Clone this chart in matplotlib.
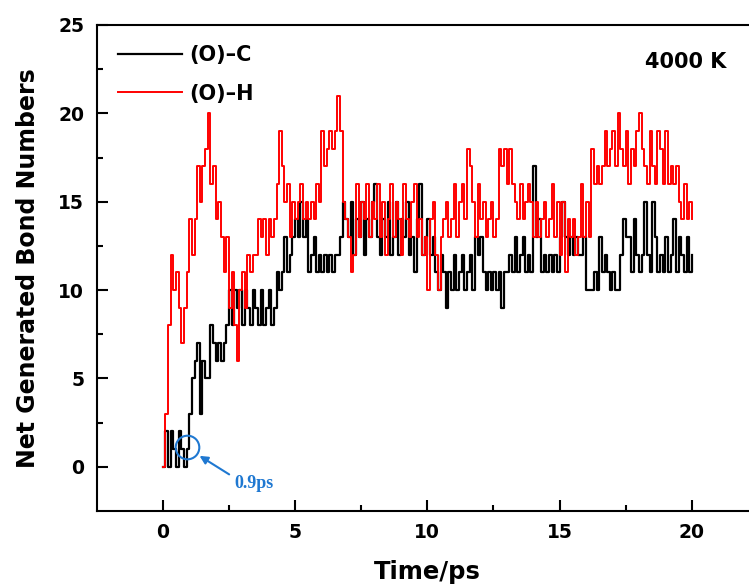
import numpy as np
import matplotlib
matplotlib.use('Agg')
import matplotlib.pyplot as plt
from matplotlib.lines import Line2D

TIME_STEP = 0.1

oc_bonds = [
    0, 2, 0, 2, 1, 0, 2, 1, 0, 1,
    3, 5, 6, 7, 3, 6, 5, 5, 8, 7,
    6, 7, 6, 7, 8, 10, 8, 10, 9, 10,
    8, 10, 9, 8, 10, 9, 8, 10, 8, 9,
    10, 8, 9, 11, 10, 11, 13, 11, 12, 13,
    14, 13, 15, 13, 14, 11, 12, 13, 11, 12,
    11, 12, 11, 12, 11, 12, 12, 13, 15, 14,
    13, 15, 12, 14, 13, 15, 12, 14, 13, 15,
    16, 13, 12, 14, 13, 15, 12, 13, 15, 12,
    14, 13, 15, 12, 13, 11, 14, 16, 12, 13,
    14, 12, 13, 11, 10, 12, 11, 9, 11, 10,
    12, 10, 11, 12, 10, 11, 12, 10, 13, 12,
    13, 11, 10, 11, 10, 11, 10, 11, 9, 11,
    11, 12, 11, 13, 11, 12, 13, 11, 12, 11,
    17, 13, 14, 11, 12, 11, 12, 11, 12, 11,
    13, 15, 13, 12, 13, 12, 13, 12, 12, 13,
    10, 10, 10, 11, 10, 13, 11, 12, 11, 10,
    11, 10, 10, 12, 14, 13, 13, 11, 14, 12,
    11, 12, 15, 12, 11, 15, 13, 11, 12, 11,
    13, 11, 12, 14, 11, 13, 12, 11, 13, 11,
    12,
]

oh_bonds = [
    0, 3, 8, 12, 10, 11, 9, 7, 9, 11,
    14, 12, 14, 17, 15, 17, 18, 20, 16, 17,
    14, 15, 13, 11, 13, 9, 11, 8, 6, 10,
    11, 9, 12, 11, 12, 12, 14, 13, 14, 12,
    14, 13, 14, 16, 19, 17, 15, 16, 13, 15,
    14, 15, 16, 14, 15, 14, 15, 14, 16, 15,
    19, 17, 18, 19, 18, 19, 21, 19, 15, 14,
    13, 11, 12, 16, 13, 15, 14, 16, 13, 15,
    14, 16, 13, 15, 12, 14, 16, 13, 15, 14,
    12, 16, 14, 13, 15, 16, 13, 14, 12, 13,
    10, 14, 15, 12, 10, 13, 14, 15, 13, 14,
    16, 13, 15, 16, 14, 18, 17, 15, 13, 16,
    14, 15, 13, 14, 15, 13, 14, 18, 17, 18,
    16, 18, 16, 15, 14, 16, 14, 15, 16, 15,
    13, 15, 13, 14, 15, 13, 14, 16, 13, 15,
    12, 15, 11, 14, 13, 14, 12, 13, 16, 13,
    15, 13, 18, 16, 17, 16, 17, 19, 17, 18,
    19, 17, 20, 18, 17, 19, 16, 18, 17, 19,
    20, 18, 17, 16, 19, 17, 16, 19, 18, 16,
    19, 16, 17, 16, 17, 15, 14, 16, 14, 15,
    14,
]

x_ticks = [0, 5, 10, 15, 20]
y_ticks = [0, 5, 10, 15, 20, 25]

# onset marker
onset_t, onset_n = 0.9, 1.1
BLUE = '#1f78d1'

time_ps = np.arange(len(oc_bonds)) * TIME_STEP

fig = plt.figure(figsize=(7.49, 5.88), dpi=100)
# right spine sits just past the image edge, as in the cropped original
ax = fig.add_axes([0.129, 0.131, 0.883, 0.8265])

ax.plot(time_ps, oc_bonds, color='black', lw=1.6, drawstyle='steps-post')
ax.plot(time_ps, oh_bonds, color='red', lw=1.4, drawstyle='steps-post')

ax.set_xlim(-2.5, 22.5)
ax.set_ylim(-2.5, 25)
ax.set_xticks(x_ticks)
ax.set_yticks(y_ticks)
ax.set_xticks(np.array(x_ticks[:-1]) + 2.5, minor=True)
ax.set_yticks(np.array(y_ticks[:-1]) + 2.5, minor=True)
ax.tick_params(which='both', direction='in', width=1.5, top=False, right=False)
ax.tick_params(which='major', length=8, pad=9, labelsize=13.5)
ax.tick_params(which='minor', length=4)
for lab in ax.get_xticklabels() + ax.get_yticklabels():
    lab.set_fontweight('bold')
for sp in ax.spines.values():
    sp.set_linewidth(1.5)

ax.set_xlabel('Time/ps', fontsize=17.5, fontweight='bold')
ax.set_ylabel('Net Generated Bond Numbers', fontsize=17, fontweight='bold')
ax.xaxis.set_label_coords(0.5, -0.1)
ax.yaxis.set_label_coords(-0.085, 0.5)

handles = [Line2D([], [], color='black', lw=1.6),
           Line2D([], [], color='red', lw=1.4)]
ax.legend(handles, ['(O)–C', '(O)–H'], loc='upper left',
          bbox_to_anchor=(0.032, 0.959), frameon=False,
          prop={'weight': 'bold', 'size': 15},
          handlelength=3.1, handletextpad=0.35, labelspacing=0.9,
          borderpad=0, borderaxespad=0)

ax.text(19.78, 22.9, '4000 K', fontsize=15, fontweight='bold',
        ha='center', va='center')

# 0.9 ps onset annotation
ax.plot([onset_t], [onset_n], 'o', mfc='none', mec=BLUE, ms=17, mew=1.5)
ax.annotate('', xy=(1.39, 0.62), xytext=(2.51, -0.43),
            arrowprops=dict(arrowstyle='-|>', color=BLUE, lw=1.5,
                            mutation_scale=12, shrinkA=0, shrinkB=0))
ax.text(2.7, -0.92, '0.9ps', color=BLUE, fontsize=13,
        fontweight='bold', family='Liberation Serif', ha='left', va='center')

fig.savefig('out.png', dpi=100)
plt.close(fig)
